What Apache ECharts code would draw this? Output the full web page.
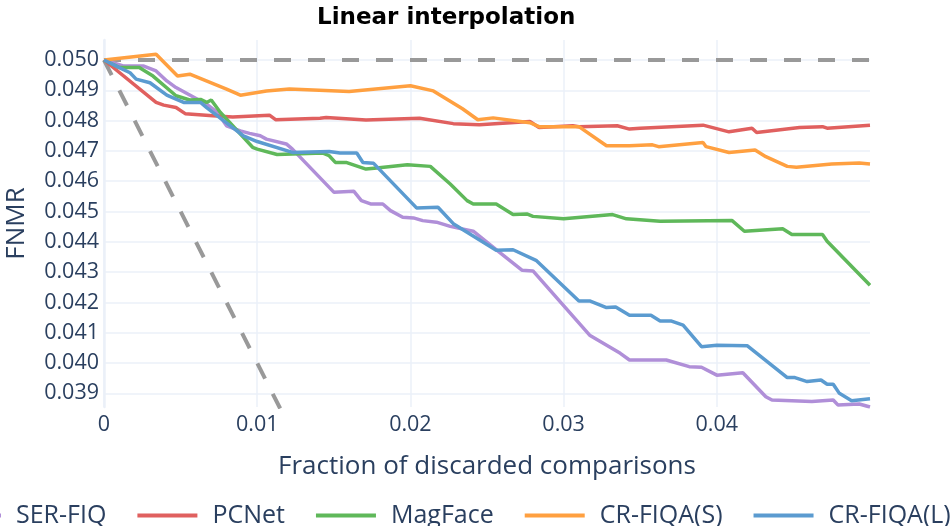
<!DOCTYPE html>
<html style="width: 100%; height: 100%">
<head>
    <meta charset="utf-8">
    <script src="https://cdn.jsdelivr.net/npm/echarts@6/dist/echarts.min.js"></script>
</head>
<body style="width: 100%; height: 100%; margin: 0; background: #fff">
<div id="container" style="width: 952px; height: 526px"></div>

<script type="text/javascript">
    // [fraction discarded, FNMR]
    var serFiq = [
        [0, 0.0500], [0.0013, 0.0498], [0.0026, 0.0498], [0.0034, 0.04964], [0.0041, 0.04931],
        [0.0047, 0.04909], [0.0067, 0.04854], [0.0074, 0.04827], [0.0080, 0.04783], [0.0089, 0.04766],
        [0.0095, 0.04758], [0.0102, 0.0475], [0.0106, 0.04739], [0.0119, 0.04723], [0.0123, 0.04706],
        [0.0150, 0.04564], [0.0163, 0.04567], [0.0168, 0.04536], [0.0174, 0.04525], [0.0182, 0.04525],
        [0.0187, 0.04503], [0.0195, 0.04481], [0.0202, 0.04479], [0.0208, 0.0447], [0.0217, 0.04465],
        [0.0226, 0.04451], [0.0241, 0.04435], [0.0258, 0.04366], [0.0273, 0.04306], [0.0280, 0.04304],
        [0.0317, 0.04092], [0.0337, 0.04032], [0.0343, 0.0401], [0.0367, 0.0401], [0.0382, 0.03988],
        [0.0390, 0.03986], [0.0400, 0.0396], [0.0417, 0.03968], [0.0432, 0.03889], [0.0436, 0.03878],
        [0.0462, 0.03873], [0.0476, 0.03878], [0.0479, 0.03862], [0.0493, 0.03865], [0.0500, 0.03855]
    ];
    var pcNet = [
        [0, 0.0500], [0.0034, 0.0486], [0.0039, 0.04851], [0.0047, 0.04843], [0.0053, 0.04823],
        [0.0071, 0.04816], [0.0084, 0.04812], [0.0108, 0.04818], [0.0112, 0.04803], [0.0141, 0.04808],
        [0.0145, 0.0481], [0.0171, 0.04802], [0.0206, 0.04808], [0.0228, 0.0479], [0.0245, 0.04786],
        [0.0278, 0.04797], [0.0284, 0.04777], [0.0306, 0.04783], [0.0310, 0.0478], [0.0335, 0.04783],
        [0.0343, 0.04772], [0.0350, 0.04775], [0.0391, 0.04785], [0.0408, 0.04763], [0.0423, 0.04775],
        [0.0426, 0.04761], [0.0454, 0.04777], [0.0469, 0.0478], [0.0472, 0.04775], [0.0500, 0.04785]
    ];
    var magFace = [
        [0, 0.0500], [0.0010, 0.04975], [0.0023, 0.04975], [0.0032, 0.04947], [0.0047, 0.04882],
        [0.0056, 0.04868], [0.0063, 0.0487], [0.0067, 0.0486], [0.0070, 0.04868], [0.0076, 0.04827],
        [0.0097, 0.04712], [0.0100, 0.04706], [0.0113, 0.04688], [0.0143, 0.04693], [0.0147, 0.04684],
        [0.0151, 0.04662], [0.0158, 0.04662], [0.0171, 0.0464], [0.0178, 0.04644], [0.0198, 0.04654],
        [0.0213, 0.04649], [0.0226, 0.04591], [0.0237, 0.04536], [0.0241, 0.04525], [0.0256, 0.04525],
        [0.0267, 0.0449], [0.0276, 0.04492], [0.0280, 0.04484], [0.0300, 0.04476], [0.0332, 0.0449],
        [0.0341, 0.04476], [0.0363, 0.04468], [0.0410, 0.0447], [0.0418, 0.04435], [0.0443, 0.04443],
        [0.0449, 0.04424], [0.0469, 0.04424], [0.0472, 0.04402], [0.0500, 0.04257]
    ];
    var crFiqaS = [
        [0, 0.0500], [0.0034, 0.05019], [0.0048, 0.04947], [0.0056, 0.04953], [0.0080, 0.04904],
        [0.0089, 0.04884], [0.0106, 0.04898], [0.0121, 0.04904], [0.0160, 0.04896], [0.0200, 0.04915],
        [0.0215, 0.04898], [0.0234, 0.04839], [0.0244, 0.04803], [0.0254, 0.04809], [0.0278, 0.04793],
        [0.0284, 0.0478], [0.0310, 0.0478], [0.0328, 0.04717], [0.0343, 0.04717], [0.0358, 0.0472],
        [0.0362, 0.04714], [0.0391, 0.04728], [0.0393, 0.04714], [0.0408, 0.04695], [0.0425, 0.04703],
        [0.0432, 0.04681], [0.0446, 0.04649], [0.0452, 0.04646], [0.0475, 0.04657], [0.0493, 0.0466],
        [0.0500, 0.04657]
    ];
    var crFiqaL = [
        [0, 0.0500], [0.0010, 0.04975], [0.0017, 0.04958], [0.0021, 0.04937], [0.0030, 0.04925],
        [0.0041, 0.04884], [0.0047, 0.04871], [0.0052, 0.0486], [0.0063, 0.0486], [0.0067, 0.04843],
        [0.0091, 0.0475], [0.0100, 0.04731], [0.0123, 0.04695], [0.0147, 0.04698], [0.0154, 0.04693],
        [0.0165, 0.04693], [0.0169, 0.04662], [0.0176, 0.04659], [0.0204, 0.04512], [0.0218, 0.04514],
        [0.0228, 0.0446], [0.0256, 0.04372], [0.0267, 0.04374], [0.0282, 0.04339], [0.0310, 0.04205],
        [0.0317, 0.04205], [0.0328, 0.04183], [0.0334, 0.04185], [0.0343, 0.04158], [0.0357, 0.04158],
        [0.0363, 0.04139], [0.0370, 0.04139], [0.0378, 0.04125], [0.0390, 0.04054], [0.0400, 0.04059],
        [0.0420, 0.04057], [0.0446, 0.03952], [0.0451, 0.03952], [0.0459, 0.03939], [0.0468, 0.03944],
        [0.0472, 0.0393], [0.0476, 0.0393], [0.0480, 0.039], [0.0488, 0.03876], [0.0500, 0.03882]
    ];
    // reference lines: no rejection and ideal (oracle) rejection
    var baseFlat = [[0, 0.050], [0.05, 0.050]];
    var baseIdeal = [[0, 0.050], [0.0115, 0.0385]];

    var xTicks = [0, 0.01, 0.02, 0.03, 0.04];
    var yTicks = [0.039, 0.040, 0.041, 0.042, 0.043, 0.044, 0.045, 0.046, 0.047, 0.048, 0.049, 0.050];

    var names = ['SER-FIQ', 'PCNet', 'MagFace', 'CR-FIQA(S)', 'CR-FIQA(L)'];
    var colors = ['#b08fd8', '#e0605f', '#5fb85a', '#ffa040', '#5b9bd0'];
    var lines = [serFiq, pcNet, magFace, crFiqaS, crFiqaL];

    var series = [
        {
            name: 'base', type: 'line', data: baseFlat, showSymbol: false, silent: true,
            lineStyle: {color: '#999', width: 4, type: [17, 17]}
        },
        {
            name: 'ideal', type: 'line', data: baseIdeal, showSymbol: false, silent: true,
            lineStyle: {color: '#999', width: 4, type: [17, 17]}
        }
    ];
    for (var i = 0; i < lines.length; i++) {
        series.push({
            name: names[i],
            type: 'line',
            data: lines[i],
            showSymbol: false,
            symbol: 'none',
            color: colors[i],
            lineStyle: {color: colors[i], width: 3.5}
        });
    }

    var myChart = echarts.init(document.getElementById('container'));
    var option = {
        animation: false,
        backgroundColor: '#fff',
        title: {
            text: 'Linear interpolation',
            left: 312,
            top: 2,
            textStyle: {fontFamily: 'DejaVu Sans', fontWeight: 'bold', fontSize: 23, color: '#000'}
        },
        legend: {
            data: names,
            top: 498,
            left: -64,
            width: 1200,
            icon: 'rect',
            itemWidth: 60,
            itemHeight: 4,
            itemGap: 31,
            textStyle: {color: '#2a3f5f', fontFamily: 'Open Sans', fontSize: 25, padding: [0, 0, 0, 10]}
        },
        grid: {left: 104, right: 82, top: 40, bottom: 119, outerBoundsMode: 'none'},
        xAxis: {
            type: 'value',
            min: 0,
            max: 0.05,
            name: 'Fraction of discarded comparisons',
            nameLocation: 'middle',
            nameGap: 47,
            nameTextStyle: {color: '#2a3f5f', fontFamily: 'Open Sans', fontSize: 26},
            axisLine: {show: false},
            axisTick: {show: false, customValues: xTicks},
            axisLabel: {
                customValues: xTicks,
                margin: 7,
                color: '#2a3f5f', fontFamily: 'Open Sans', fontSize: 21.5,
                formatter: function (v) { return v === 0 ? '0' : v.toFixed(2); }
            },
            splitLine: {show: true, lineStyle: {color: '#ebf0f8', width: 1.5}}
        },
        yAxis: {
            type: 'value',
            min: 0.03855,
            max: 0.05066,
            name: 'FNMR',
            nameLocation: 'middle',
            nameGap: 74,
            nameTextStyle: {color: '#2a3f5f', fontFamily: 'Open Sans', fontSize: 26},
            axisLine: {show: true, onZero: false, lineStyle: {color: '#ebf0f8', width: 2.5}},
            axisTick: {show: false, customValues: yTicks},
            axisLabel: {
                customValues: yTicks,
                margin: 5,
                color: '#2a3f5f', fontFamily: 'Open Sans', fontSize: 21.5,
                formatter: function (v) { return v.toFixed(3); }
            },
            splitLine: {show: true, lineStyle: {color: '#ebf0f8', width: 1.5}}
        },
        series: series
    };
    myChart.setOption(option);
</script>
</body>
</html>
